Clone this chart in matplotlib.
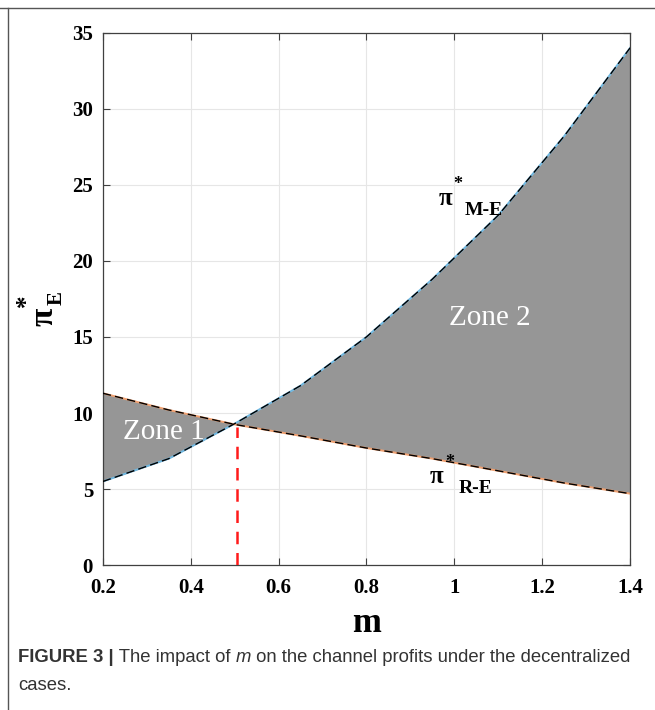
import matplotlib
matplotlib.use("Agg")
import matplotlib.pyplot as plt
import numpy as np
from matplotlib.lines import Line2D

# values
m_vals = [0.2, 0.35, 0.5, 0.65, 0.8, 0.95, 1.1, 1.25, 1.4]
pi_me = [5.5, 7.0, 9.3, 11.8, 15.0, 18.8, 23.0, 28.2, 34.0]
pi_re = [11.3, 10.2, 9.25, 8.5, 7.7, 7.0, 6.2, 5.4, 4.7]
m_cross = 0.505
pi_cross = 9.1

x_ticks = [0.2, 0.4, 0.6, 0.8, 1.0, 1.2, 1.4]
x_ticklabels = ["0.2", "0.4", "0.6", "0.8", "1", "1.2", "1.4"]
y_ticks = [0, 5, 10, 15, 20, 25, 30, 35]

serif = "Liberation Serif"

fig = plt.figure(figsize=(6.55, 7.1), dpi=100)
ax = fig.add_axes([0.157, 0.204, 0.805, 0.750])

m = np.array(m_vals)
ax.fill_between(m, pi_me, pi_re, color="#969696", linewidth=0, zorder=1)

# solid coloured lines with black dashed overlays (as in the original)
ax.plot(m, pi_me, color="#6fb7e0", linewidth=1.4, zorder=2)
ax.plot(m, pi_me, color="black", linewidth=1.0, linestyle=(0, (6, 3)), zorder=3)
ax.plot(m, pi_re, color="#f0a070", linewidth=1.4, zorder=2)
ax.plot(m, pi_re, color="black", linewidth=1.0, linestyle=(0, (6, 3)), zorder=3)

ax.plot([m_cross, m_cross], [0, pi_cross], color="#ff1a1a", linewidth=1.8,
        linestyle=(0, (5, 3.5)), zorder=4)

ax.set_xlim(0.2, 1.4)
ax.set_ylim(0, 35)
ax.set_xticks(x_ticks)
ax.set_xticklabels(x_ticklabels)
ax.set_yticks(y_ticks)
ax.grid(True, color="#e6e6e6", linewidth=0.8, zorder=0)
ax.set_axisbelow(True)
ax.tick_params(direction="in", top=True, right=True, length=5, width=0.8,
               color="#404040", labelsize=15)
ax.tick_params(axis="x", pad=9)
ax.tick_params(axis="y", pad=7)
for lab in ax.get_xticklabels() + ax.get_yticklabels():
    lab.set_fontfamily(serif)
    lab.set_fontweight("bold")
for s in ax.spines.values():
    s.set_color("#404040")
    s.set_linewidth(0.9)

ax.set_xlabel("m", fontfamily=serif, fontweight="bold", fontsize=25, labelpad=7)

# y label: pi*_E, rotated
fig.text(44 / 655, 1 - 317 / 710, "π", fontfamily=serif, fontweight="bold", fontsize=24,
         rotation=90, ha="center", va="center")
fig.text(26 / 655, 1 - 301 / 710, "*", fontfamily=serif, fontweight="bold", fontsize=18,
         rotation=90, ha="center", va="center")
fig.text(57 / 655, 1 - 298 / 710, "E", fontfamily=serif, fontweight="bold", fontsize=15,
         rotation=90, ha="center", va="center")


def pi_label(x, y, sub):
    ax.text(x, y, "π", fontfamily=serif, fontweight="bold", fontsize=18,
            ha="center", va="center", zorder=5)
    ax.annotate("*", xy=(x, y), xytext=(9, 10), textcoords="offset points",
                fontfamily=serif, fontweight="bold", fontsize=13,
                ha="center", va="center", zorder=5)
    ax.annotate(sub, xy=(x, y), xytext=(28, -9), textcoords="offset points",
                fontfamily=serif, fontweight="bold", fontsize=14,
                ha="center", va="center", zorder=5)


pi_label(0.979, 24.1, "M-E")
pi_label(0.96, 5.85, "R-E")

ax.text(0.34, 8.75, "Zone 1", color="white", fontfamily=serif, fontsize=21,
        ha="center", va="center", zorder=5)
ax.text(1.081, 16.25, "Zone 2", color="white", fontfamily=serif, fontsize=21,
        ha="center", va="center", zorder=5)

# page frame lines
fig.add_artist(Line2D([0.0, 1.0], [1 - 8 / 710, 1 - 8 / 710], color="#555555",
                      linewidth=1.0, transform=fig.transFigure))
fig.add_artist(Line2D([8 / 655, 8 / 655], [0.0, 1 - 8 / 710], color="#555555",
                      linewidth=1.0, transform=fig.transFigure))

# caption made of pieces with different styles
fig.canvas.draw()
renderer = fig.canvas.get_renderer()
cap = "Liberation Sans"
pieces = [("FIGURE 3 |", "bold", "normal"), (" The impact of ", "normal", "normal"),
          ("m", "normal", "italic"),
          (" on the channel profits under the decentralized", "normal", "normal")]
x0 = 18 / 655
y1 = 1 - 657 / 710
for txt, w, st in pieces:
    t = fig.text(x0, y1, txt, fontfamily=cap, fontweight=w, fontstyle=st,
                 fontsize=13.3, color="#333333", va="center", ha="left")
    bb = t.get_window_extent(renderer)
    x0 += bb.width / fig.bbox.width
fig.text(18 / 655, 1 - 686 / 710, "cases.", fontfamily=cap, fontsize=13.3,
         color="#333333", va="center", ha="left")

fig.savefig("out.png", dpi=100)
